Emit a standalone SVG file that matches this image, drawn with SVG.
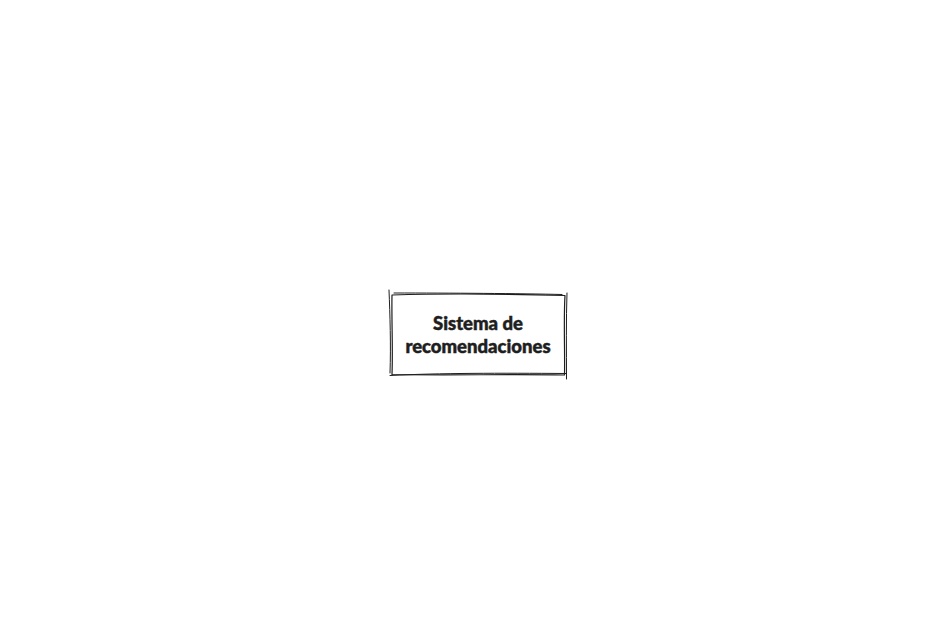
<svg xmlns="http://www.w3.org/2000/svg" width="941" height="632" viewBox="0 0 941 632">
<style>
.sk{fill:none;stroke:#1e1e1e;stroke-linecap:round;}
.t{font-family:Lato,"Noto Sans",sans-serif;font-weight:900;font-size:18.5px;fill:#1e1e1e;stroke:#1e1e1e;stroke-width:0.5;text-anchor:middle;}
</style>
<rect width="941" height="632" fill="#ffffff"/>
<g id="node-sistema">
<rect x="392" y="295" width="173" height="80" fill="#ffffff"/>
<path class="sk" stroke-width="1.2" d="M392 295 C440 293.5 510 294 565 295.5 M565 295.5 C563.5 320 565 350 564.5 375 M564.5 375 C510 374 450 375.5 392 374.5 M392 374.5 C393 350 391.5 320 392 295"/>
<path class="sk" stroke-width="1" d="M394 293 C450 293 520 293.5 562 294.5 M567 293 C566 320 566.5 350 566.5 379 M566 373.5 C500 373 440 373 390 375.5 M390 373 C391 345 390 315 389 290"/>
<text class="t" x="478" y="329.5">Sistema de</text>
<text class="t" x="478" y="352.5">recomendaciones</text>
</g>
<g id="connectors"></g>
</svg>
